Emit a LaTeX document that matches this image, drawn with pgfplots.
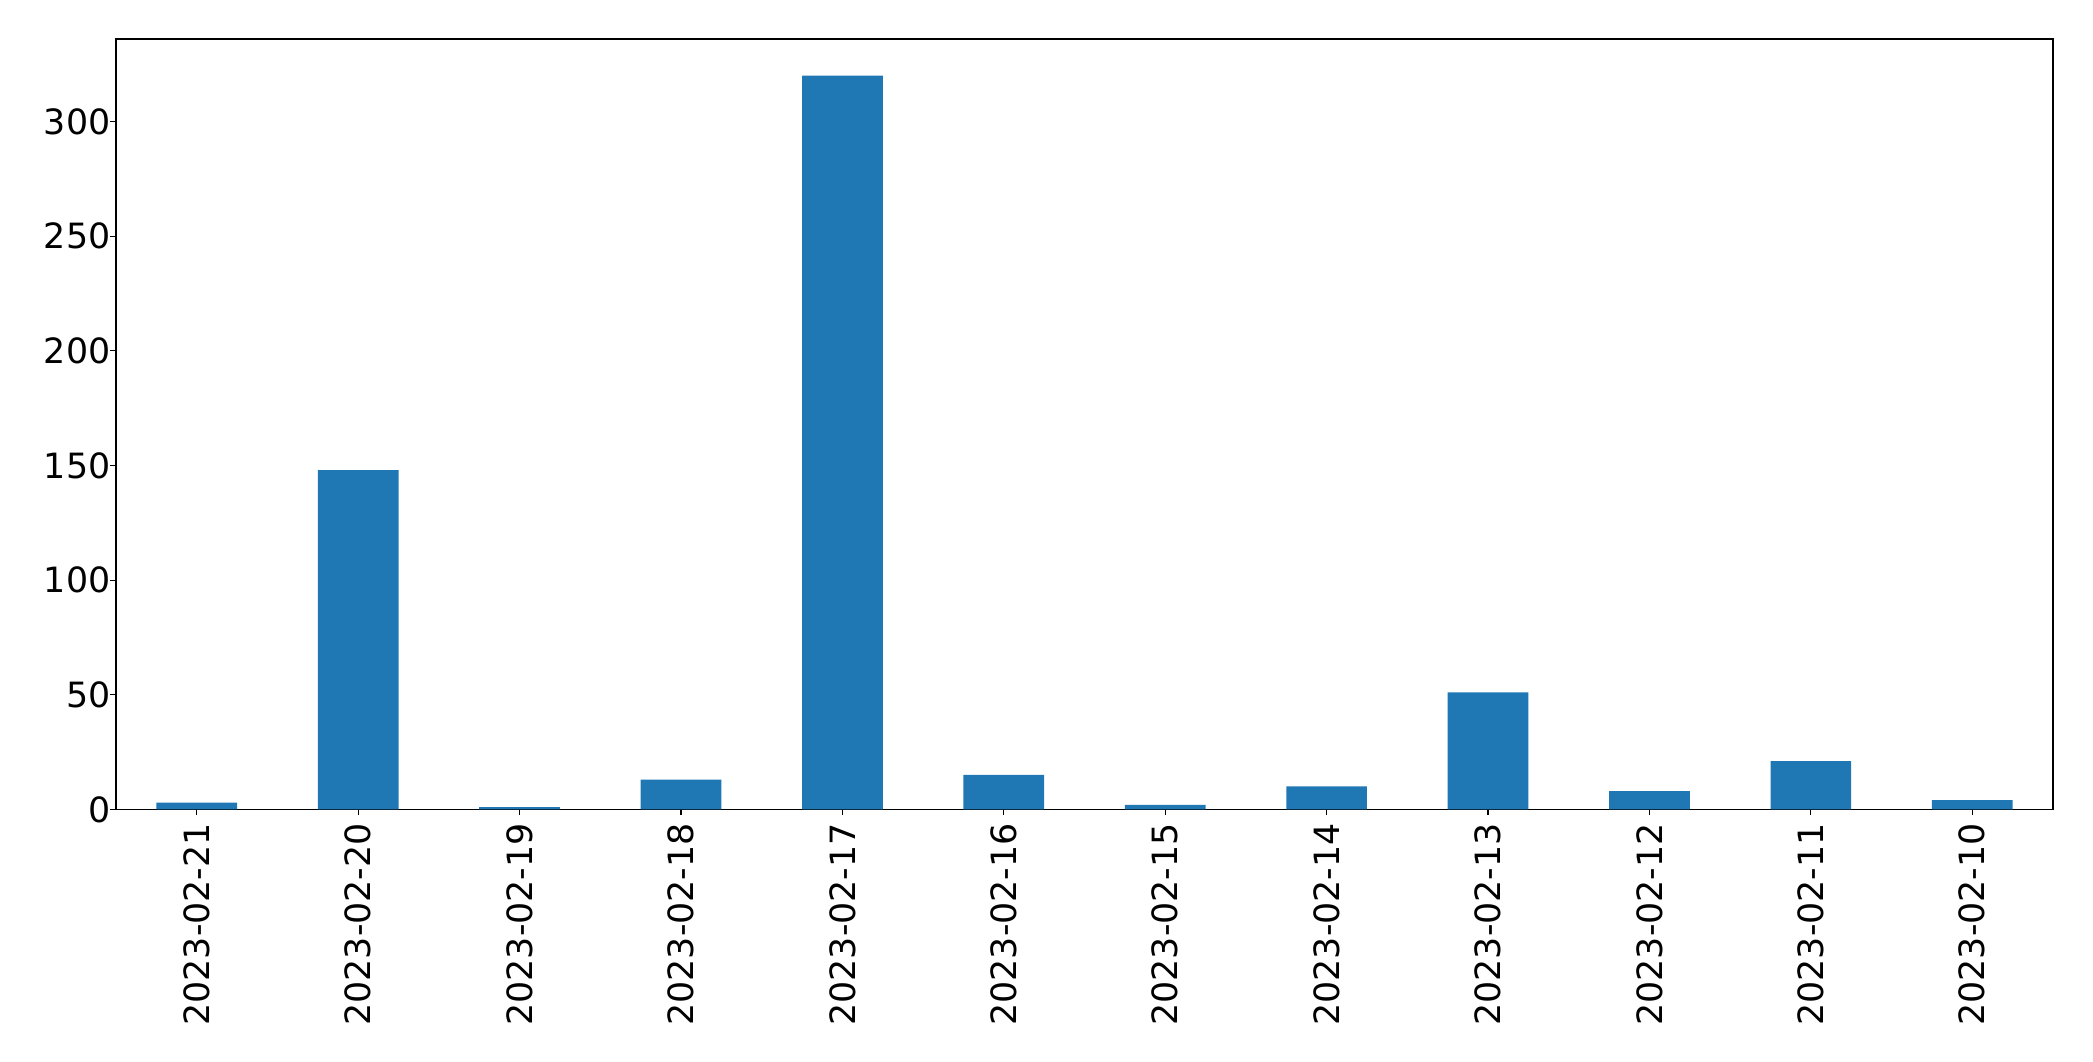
\documentclass[border=0pt]{standalone}
\usepackage{pgfplots}
\pgfplotsset{compat=1.18}
\usepackage{fontspec}
\setmainfont{DejaVu Sans}
\definecolor{mplblue}{HTML}{1F77B4}
\begin{document}
\begin{tikzpicture}
\begin{axis}[
  scale only axis,
  width=484pt, height=192.5pt,
  xmin=-0.5, xmax=11.5,
  ymin=0, ymax=336,
  xtick={0,...,11},
  xticklabels={2023-02-21,2023-02-20,2023-02-19,2023-02-18,2023-02-17,2023-02-16,2023-02-15,2023-02-14,2023-02-13,2023-02-12,2023-02-11,2023-02-10},
  ytick={0,50,100,150,200,250,300},
  tick align=outside,
  tick pos=left,
  major tick length=1.4pt,
  axis line style={line width=0.3pt},
  tick style={line width=0.3pt, black},
  ticklabel style={font=\fontsize{8.7}{10}\selectfont},
  x tick label style={rotate=90, anchor=east, xshift=1.5pt},
  y tick label style={xshift=3.5pt},
  /pgf/number format/assume math mode=true,
  ybar, bar width=0.5,
]
\addplot[fill=mplblue, draw=none] coordinates {
(0,3) (1,148) (2,1) (3,13) (4,320) (5,15) (6,2) (7,10) (8,51) (9,8) (10,21) (11,4)};
\end{axis}
\pgfresetboundingbox
\path (current axis.south west) ++(-29pt,-63pt) coordinate (bl);
\path (current axis.north east) ++(10pt,9.75pt) coordinate (tr);
\path[use as bounding box] (bl) rectangle (tr);
\end{tikzpicture}
\end{document}
